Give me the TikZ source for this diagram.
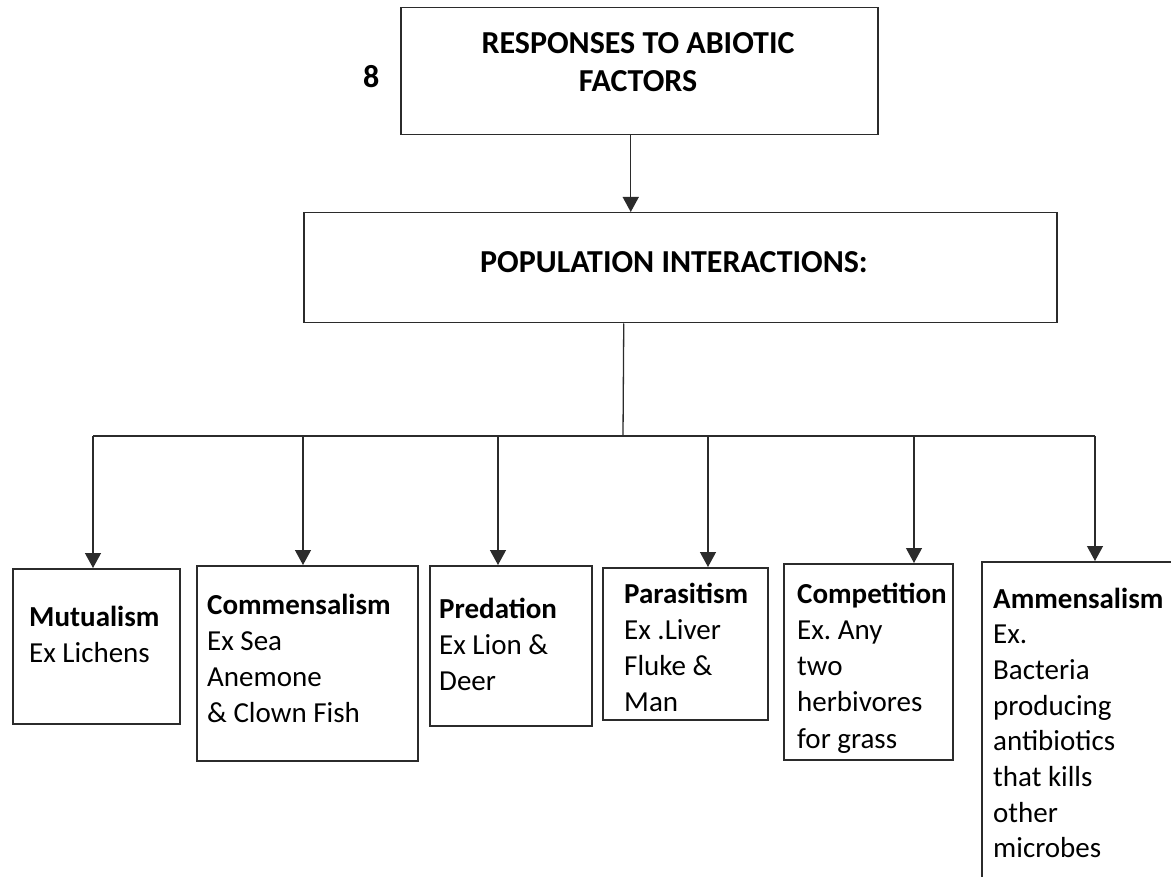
\documentclass[tikz,border=0pt]{standalone}
\usepackage{fontspec}
\setmainfont{Carlito}
\usetikzlibrary{arrows.meta}
\frenchspacing
\definecolor{inkline}{HTML}{2B2B2B}
\newcommand{\leftlines}[1]{\begin{tabular}[t]{@{}l@{}}#1\end{tabular}}
\newcommand{\midlines}[1]{\begin{tabular}[t]{@{}c@{}}#1\end{tabular}}

\tikzset{
  box/.style={draw=inkline,line width=1.5pt,inner sep=0pt,anchor=north west},
  txt/.style={inner sep=0pt,anchor=base west,
              font=\fontsize{29}{36.3}\selectfont},
  head/.style={inner sep=0pt,anchor=base,
              font=\bfseries\fontsize{32}{38}\selectfont},
  arr/.style={draw=inkline,line width=1.3pt,-{Triangle[length=15pt,width=16pt]}}
}

\begin{document}
\begin{tikzpicture}[x=1pt,y=-1pt]
  \useasboundingbox (0,0) rectangle (1171,877);
  \clip (0,0) rectangle (1171,877);
  % top of the chart
  \node[box,minimum width=477,minimum height=127] (resp) at (400,7) {};
  \node[head] (resplbl) at (638,54) {\midlines{RESPONSES TO ABIOTIC\\FACTORS}};
  \node[head,anchor=base west] (num) at (363,88) {8};
  \node[box,minimum width=753,minimum height=110] (pop) at (303,212) {};
  \node[head] (poplbl) at (674,273) {POPULATION INTERACTIONS:};
  % the six interactions
  \node[box,minimum width=167,minimum height=155] (mut) at (12,568) {};
  \node[box,minimum width=221,minimum height=195] (com) at (196,565) {};
  \node[box,minimum width=162,minimum height=160] (pred) at (429,565) {};
  \node[box,minimum width=165,minimum height=152] (para) at (602,567) {};
  \node[box,minimum width=169,minimum height=196] (comp) at (783,563) {};
  \node[box,minimum width=260,minimum height=360] (amm) at (981,561) {};
  \node[txt] (mutlbl) at (29,626) {\leftlines{\textbf{Mutualism}\\Ex Lichens}};
  \node[txt] (comlbl) at (207,614) {\leftlines{\textbf{Commensalism}\\Ex Sea\\Anemone\\\& Clown Fish}};
  \node[txt] (predlbl) at (439,618) {\leftlines{\textbf{Predation}\\Ex Lion \&\\Deer}};
  \node[txt] (paralbl) at (624,603) {\leftlines{\textbf{Parasitism}\\Ex .Liver\\Fluke \&\\Man}};
  \node[txt] (complbl) at (797,603) {\leftlines{\textbf{Competition}\\Ex. Any\\two\\herbivores\\for grass}};
  \node[txt,font=\fontsize{29}{35.7}\selectfont] (ammlbl) at (993,608)
    {\leftlines{\textbf{Ammensalism}\\Ex.\\Bacteria\\producing\\antibiotics\\that kills\\other\\microbes}};
  % connectors
  \draw[arr] ([xshift=-8.5pt]resp.south) coordinate (rs) -- (rs |- pop.north);
  \coordinate (hub) at (623,436);
  \draw[draw=inkline,line width=1.3pt] ([xshift=-56.5pt]pop.south) -- (hub);
  \foreach \x/\n in {93/mut,303/com,498/pred,708/para,914/comp,1095/amm}
    \coordinate (bus\n) at (\x,436);
  \draw[draw=inkline,line width=1.3pt] (busmut) -- (busamm);
  \foreach \n in {mut,com,pred,para,comp,amm}
    \draw[arr] (bus\n) -- (bus\n |- \n.north);
\end{tikzpicture}
\end{document}
